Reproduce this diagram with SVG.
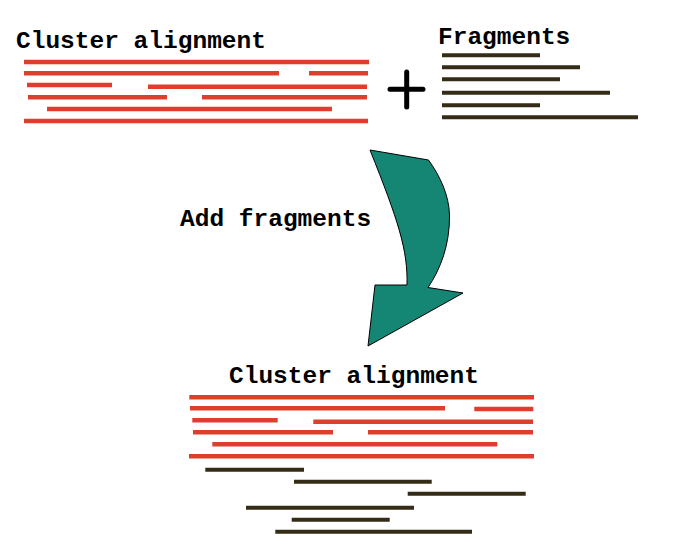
<svg xmlns="http://www.w3.org/2000/svg" width="700" height="550" viewBox="0 0 700 550">
<style>
.t{font-family:"Liberation Mono","Courier New",monospace;font-weight:bold;font-size:24.5px;fill:#000}
.r{stroke:#e03e2c;stroke-width:4.5;fill:none}
.f{stroke:#352c18;stroke-width:4;fill:none}
</style>
<rect width="700" height="550" fill="#fff"/>
<g id="cluster-top">
<text class="t" x="16" y="48">Cluster alignment</text>
<path class="r" d="M24 62H369M24 73.3H279M309 73.3H368M27 85H112M148 86.7H367M28 97.3H167M202 97.3H367M47 109H332M24 121H368"/>
</g>
<g id="plus">
<path d="M406.7 72V107M390 89.3H423" stroke="#000" stroke-width="5" stroke-linecap="round" fill="none"/>
</g>
<g id="fragments">
<text class="t" x="438" y="43.5">Fragments</text>
<path class="f" d="M442 55.3H540M442 67.3H580M442 79.3H560M442 92.7H610M442 105.3H540M442 117.3H638"/>
</g>
<g id="connectors">
<path id="arrow" d="M370 150 L428.5 160 C440 176 449 195 449.5 215 C450 245 440 270 428 287.5 L463 293 L368 346 L375 285 L407 285 C408 250 398 220 370 150 Z" fill="#168674" stroke="#000" stroke-width="1"/>
<text class="t" x="180" y="226">Add fragments</text>
</g>
<g id="cluster-bottom">
<text class="t" x="229" y="383.3">Cluster alignment</text>
<path class="r" d="M189.3 397.3H534M190 408.3H445M474.3 409H533.3M192.3 420.3H277.7M313.3 421.7H533M193 432.3H333M368 432.3H533M212.3 444.3H497.3M189 456.3H534"/>
<path class="f" d="M205.3 469.7H304M294 481.7H431.7M407.7 493.7H525.7M246 507.7H414M291.7 519.7H389.7M275.3 531.7H472"/>
</g>
</svg>
